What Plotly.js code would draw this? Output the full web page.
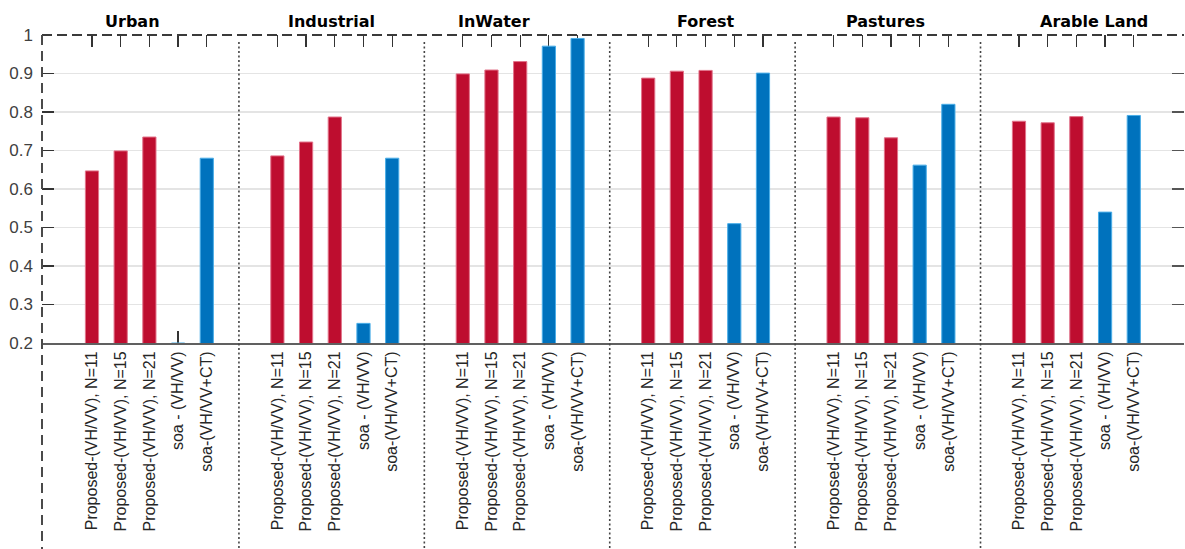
<!DOCTYPE html>
<html>
<head>
<meta charset="utf-8">
<script src="https://cdn.plot.ly/plotly-3.0.1.min.js"></script>
<style>
  html, body { margin: 0; padding: 0; background: #ffffff; }
  #chart { width: 1185px; height: 549px; }
</style>
</head>
<body>
<div id="chart"></div>
<script>
// Land-cover classes and the five classification methods compared in each
const groups = ['Urban', 'Industrial', 'InWater', 'Forest', 'Pastures', 'Arable Land'];
const methods = [
  'Proposed-(VH/VV), N=11',
  'Proposed-(VH/VV), N=15',
  'Proposed-(VH/VV), N=21',
  'soa - (VH/VV)',
  'soa-(VH/VV+CT)'
];

// Scores per class, one array per method
const proposedN11 = [0.647, 0.686, 0.899, 0.888, 0.787, 0.776];
const proposedN15 = [0.699, 0.722, 0.909, 0.906, 0.785, 0.772];
const proposedN21 = [0.735, 0.787, 0.931, 0.908, 0.733, 0.788];
const soaVHVV     = [0.200, 0.251, 0.971, 0.510, 0.662, 0.540];
const soaVHVVCT   = [0.680, 0.680, 0.991, 0.901, 0.820, 0.791];

const yTicks = [0.2, 0.3, 0.4, 0.5, 0.6, 0.7, 0.8, 0.9, 1];

// ---- layout helpers (bar slots along a numeric axis) ----
const GROUP_STEP = 6.46;   // distance between first bars of neighbouring groups
const SEP_OFFSET = 5.12;   // divider position after a group's first bar
const TITLE_SHIFT = [-0.58, -0.10, -0.90, 0.03, -0.20, 0.63];
const BAR_W = 0.46;

const series = [proposedN11, proposedN15, proposedN21, soaVHVV, soaVHVVCT];
const RED = '#BE0D2F', RED_EDGE = '#E2738A';
const BLUE = '#0072BD', BLUE_EDGE = '#4AAEE8';

const pos = (g, k) => g * GROUP_STEP + k;

const redX = [], redY = [], blueX = [], blueY = [];
const tickVals = [], tickText = [];
groups.forEach((grp, g) => {
  methods.forEach((m, k) => {
    const x = pos(g, k);
    tickVals.push(x);
    tickText.push(m);
    if (k < 3) { redX.push(x); redY.push(series[k][g]); }
    else { blueX.push(x); blueY.push(series[k][g]); }
  });
});

const traces = [
  {
    type: 'bar', x: redX, y: redY, width: BAR_W,
    marker: { color: RED, line: { color: RED_EDGE, width: 1 } },
    hoverinfo: 'x+y', showlegend: false
  },
  {
    type: 'bar', x: blueX, y: blueY, width: BAR_W,
    marker: { color: BLUE, line: { color: BLUE_EDGE, width: 1 } },
    hoverinfo: 'x+y', showlegend: false
  }
];

const xRange = [-1.742, 38.05];
const yRange = [0.2, 1];

const shapes = [];
// dotted dividers between classes
for (let g = 0; g < groups.length - 1; g++) {
  shapes.push({
    type: 'line', xref: 'x', yref: 'paper',
    x0: pos(g, 0) + SEP_OFFSET, x1: pos(g, 0) + SEP_OFFSET,
    y0: 0.977, y1: -0.67,
    line: { color: '#444444', width: 1.6, dash: '2px,2.5px' }
  });
}
// dashed frame: top edge and the long left edge
shapes.push({
  type: 'line', xref: 'paper', yref: 'paper', x0: 0, x1: 1, y0: 1, y1: 1,
  line: { color: '#3a3a3a', width: 2, dash: '10px,5px' }
});
shapes.push({
  type: 'line', xref: 'paper', yref: 'paper', x0: 0, x1: 0, y0: 1, y1: -0.67,
  line: { color: '#4a4a4a', width: 2, dash: '10px,6px' }
});

const annotations = groups.map((grp, g) => ({
  xref: 'x', yref: 'paper',
  x: pos(g, 2) + TITLE_SHIFT[g], y: 1.045,
  xanchor: 'center', yanchor: 'middle',
  text: '<b>' + grp + '</b>', showarrow: false,
  font: { family: 'DejaVu Sans', size: 16, color: '#000000' }
}));

const layout = {
  width: 1185, height: 549,
  margin: { l: 42, r: 1, t: 35, b: 206 },
  paper_bgcolor: '#ffffff', plot_bgcolor: '#ffffff',
  barmode: 'overlay', showlegend: false,
  xaxis: {
    range: xRange, tickmode: 'array', tickvals: tickVals, ticktext: tickText,
    tickangle: -90, ticks: 'inside', ticklen: 12, tickwidth: 1.2, tickcolor: '#333333',
    tickfont: { family: 'Liberation Sans', size: 16, color: '#262626' },
    showline: true, linecolor: '#606060', linewidth: 2, layer: 'below traces',
    showgrid: false, zeroline: false, fixedrange: true
  },
  xaxis2: {
    overlaying: 'x', side: 'top', matches: 'x', range: xRange,
    tickmode: 'array', tickvals: tickVals, ticks: 'inside', ticklen: 12,
    tickwidth: 1.2, tickcolor: '#333333', layer: 'below traces',
    showticklabels: false, showline: false, showgrid: false, zeroline: false
  },
  yaxis: {
    range: yRange, tickmode: 'array', tickvals: yTicks,
    ticktext: yTicks.map(v => v === 1 ? '1' : v.toFixed(1)),
    ticks: 'inside', ticklen: 12, tickwidth: 1.2, tickcolor: '#333333',
    tickfont: { family: 'Liberation Sans', size: 17, color: '#404040' },
    ticklabelstandoff: 8,
    showline: false, showgrid: true, gridcolor: '#e4e4e4', gridwidth: 1.2,
    zeroline: false, fixedrange: true
  },
  yaxis2: {
    overlaying: 'y', side: 'right', matches: 'y', range: yRange,
    tickmode: 'array', tickvals: yTicks, ticks: 'inside', ticklen: 12,
    tickwidth: 1.2, tickcolor: '#555555',
    showticklabels: false, showline: false, showgrid: false, zeroline: false
  },
  shapes: shapes,
  annotations: annotations
};

// placeholder trace so the mirrored top/right tick axes are drawn
traces.push({
  type: 'scatter', x: [xRange[0]], y: [yRange[0]], xaxis: 'x2', yaxis: 'y2',
  mode: 'markers', marker: { opacity: 0 }, hoverinfo: 'skip', showlegend: false
});

Plotly.newPlot('chart', traces, layout, { displayModeBar: false, staticPlot: true });
</script>
</body>
</html>
